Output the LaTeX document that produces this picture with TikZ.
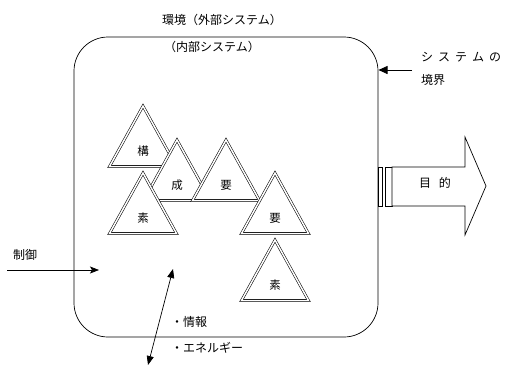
\documentclass[tikz,border=0pt]{standalone}
\usepackage{fontspec}
\setmainfont{Noto Sans CJK JP}
\usetikzlibrary{arrows.meta}
\tikzset{
  tri/.style={draw=black, line width=0.55pt, double=white, double distance=1.5pt, fill=white, line join=miter},
  lbl/.style={inner sep=0pt, font=\fontsize{12}{14}\selectfont},
  tlbl/.style={inner sep=0pt, font=\fontsize{11.5}{13}\selectfont},
  thin/.style={line width=0.7pt}
}
\newcommand{\mytri}[4]{%
  \draw[tri] (#1,#2+3) -- (#1+33.5,#2+63.5) -- (#1-33.5,#2+63.5) -- cycle;
  \node[tlbl] (#3) at (#1,#2+48) {#4};
}
\begin{document}
\begin{tikzpicture}[x=1pt,y=-1pt]
\useasboundingbox (0,0) rectangle (506,367);
% system boundary
\draw[thin, rounded corners=34pt] (74,37) rectangle (378,337);
\node[lbl] (env) at (222,20) {環境（外部システム）};
\node[lbl] (inner) at (212,47) {（内部システム）};
\node[lbl, anchor=west] (bd1) at (421,57) {シ\hspace{5pt}ス\hspace{5pt}テ\hspace{5pt}ム\hspace{5pt}の};
\node[lbl, anchor=west] (bd2) at (421,80) {境界};
\coordinate (bdS) at (412,70);
\coordinate (bdE) at (378.5,70);
\draw[thin, -{Triangle[length=9pt,width=8pt]}] (bdS) -- (bdE);
% triangles
\mytri{143}{103}{k1}{構}
\mytri{177}{137}{k2}{成}
\mytri{226}{137}{k3}{要}
\mytri{143}{170}{k4}{素}
\mytri{275}{170}{k5}{要}
\mytri{275}{237}{k6}{素}
% purpose arrow
\draw[thin, fill=white] (378,167) rectangle (382.5,206);
\draw[thin, fill=white] (385.5,167) rectangle (392,206);
\draw[thin, fill=white, line join=miter] (392,167) -- (465,167) -- (465,137) -- (486,186) -- (465,235) -- (465,206) -- (392,206) -- cycle;
\node[lbl] (goal) at (435,183) {目\hspace{8pt}的};
% control
\node[lbl] (ctl) at (25,255) {制御};
\coordinate (ctlS) at (7,270);
\coordinate (ctlE) at (99,270);
\draw[thin, -{Stealth[length=9pt,width=7pt,inset=2pt]}] (ctlS) -- (ctlE);
% information / energy
\coordinate (ieA) at (173,269);
\coordinate (ieB) at (148,365);
\draw[thin, {Triangle[length=9pt,width=7pt]}-{Triangle[length=9pt,width=7pt]}] (ieB) -- (ieA);
\node[lbl, anchor=west] (info) at (171,322) {・情報};
\node[lbl, anchor=west] (enr) at (171,348) {・エネルギー};
\end{tikzpicture}
\end{document}
